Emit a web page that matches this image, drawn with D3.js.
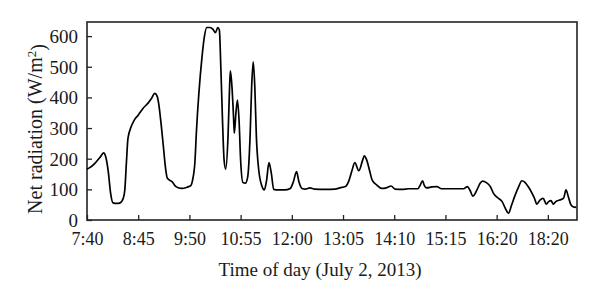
<!DOCTYPE html>
<html>
<head>
<meta charset="utf-8">
<script src="https://cdn.jsdelivr.net/npm/d3@7"></script>
<style>
body { margin: 0; background: #fff; }
svg text { font-family: "Liberation Serif", "DejaVu Serif", serif; fill: #1a1a1a; }
</style>
</head>
<body>
<div class="chart"></div>
<script>
// minutes after 7:40 (one tick = 65 min on the original axis)
var minutes = [0,3,10,17,21,24,27,30,33,38,42,46,48,50,52,56,60,65,71,78,82,86,89,91,94,97,99,102,108,113,120,127,132,134,137,139,142,146,149,152,156,160,163,166,168,170,172,174,176,179,181,182,184,186,187,189,191,193,195,198,201,204,207,209,211,213,215,218,222,225,228,231,234,237,243,251,258,262,266,269,273,277,283,289,302,315,321,328,332,336,340,345,350,352,355,359,362,368,374,380,386,391,400,408,420,423,426,428,431,438,444,450,463,478,483,486,490,495,499,502,507,512,516,522,527,531,535,539,543,548,552,556,560,565,568,571,575,579,583,586,589,592,595,600,605,608,611,614,617,621];
var radiation = [166,170,185,206,219,204,158,87,56,54,56,71,98,186,266,304,326,342,364,383,397,413,404,380,315,239,185,136,125,109,103,107,113,130,190,293,413,532,598,628,628,622,611,628,620,489,326,196,166,272,435,487,435,337,283,348,391,326,196,122,120,141,272,435,516,435,272,163,111,98,130,187,152,100,98,98,103,125,158,125,103,101,105,101,100,101,105,109,125,158,187,161,196,209,196,158,130,114,103,105,111,101,100,102,102,114,128,114,105,108,109,102,102,102,109,98,78,98,120,127,122,109,87,71,60,38,22,49,78,109,128,123,109,87,71,52,65,71,52,60,63,52,60,65,71,98,76,51,43,41];
var tickMinutes = [0,65,130,195,260,325,390,455,520,585];
var tickLabels = ["7:40","8:45","9:50","10:55","12:00","13:05","14:10","15:15","16:20","18:20"];
var yTicks = [0,100,200,300,400,500,600];

var data = minutes.map(function (m, i) { return {m: m, v: radiation[i]}; });

var plotL = 87, plotR = 577, plotT = 22, plotB = 220;

var svg = d3.select('.chart')
	.append('svg')
	.attr('width', 600)
	.attr('height', 298);

var x = d3.scaleLinear().domain([0, 622]).range([plotL, plotR]);
var y = d3.scaleLinear().domain([0, 646]).range([plotB, plotT]);

// x axis, ticks pointing into the plot
var xAxis = svg.append('g')
	.attr('transform', 'translate(0,' + plotB + ')')
	.call(d3.axisBottom(x)
		.tickValues(tickMinutes)
		.tickFormat(function (d, i) { return tickLabels[i]; })
		.tickSizeInner(-5)
		.tickSizeOuter(0));
xAxis.select('.domain').remove();
xAxis.selectAll('line').attr('stroke', '#222').attr('stroke-width', 1.3);
xAxis.selectAll('text')
	.attr('y', 25)
	.attr('dy', 0)
	.style('font-size', '18px');

// y axis
var yAxis = svg.append('g')
	.attr('transform', 'translate(' + plotL + ',0)')
	.call(d3.axisLeft(y)
		.tickValues(yTicks)
		.tickSizeInner(-5)
		.tickSizeOuter(0)
		.tickPadding(9));
yAxis.select('.domain').remove();
yAxis.selectAll('line').attr('stroke', '#222').attr('stroke-width', 1.3);
yAxis.selectAll('text')
	.attr('dy', '0.34em')
	.style('font-size', '19px');

// plot frame
svg.append('rect')
	.attr('x', plotL)
	.attr('y', plotT)
	.attr('width', plotR - plotL)
	.attr('height', plotB - plotT)
	.style('fill', 'none')
	.style('stroke', '#222')
	.style('stroke-width', 1.6);

var line = d3.line()
	.x(function (d) { return x(d.m); })
	.y(function (d) { return y(d.v); })
	.curve(d3.curveMonotoneX);

svg.append('path')
	.datum(data)
	.attr('d', line)
	.style('fill', 'none')
	.style('stroke', '#000')
	.style('stroke-width', 1.7)
	.style('stroke-linejoin', 'round');

// axis titles
svg.append('text')
	.attr('x', 320)
	.attr('y', 276)
	.attr('text-anchor', 'middle')
	.style('font-size', '19px')
	.text('Time of day (July 2, 2013)');

var yl = svg.append('text')
	.attr('transform', 'translate(42,129) rotate(-90)')
	.attr('text-anchor', 'middle')
	.style('font-size', '20px');
yl.append('tspan').text('Net radiation (W/m');
yl.append('tspan').attr('dy', '-0.45em').style('font-size', '13px').text('2');
yl.append('tspan').attr('dy', '0.45em').text(')');
</script>
</body>
</html>
